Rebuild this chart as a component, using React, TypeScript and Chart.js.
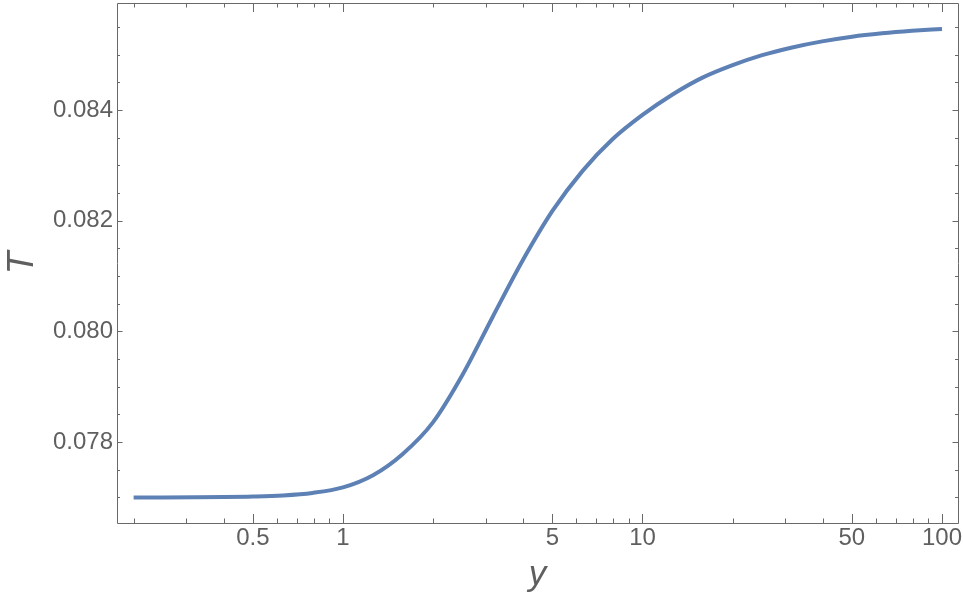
import React, { useEffect, useRef } from "react";
import { Chart, registerables } from "chart.js";

Chart.register(...registerables);

// ---- data ----
const yValues: number[] = [
  0.2, 0.25, 0.32, 0.4, 0.5, 0.63, 0.79, 1, 1.26, 1.58, 2, 2.51, 3.16, 3.98, 5.01,
  6.31, 7.94, 10, 12.6, 15.8, 20, 25.1, 31.6, 39.8, 50.1, 63.1, 79.4, 100,
];
const tValues: number[] = [
  0.077, 0.077, 0.077002, 0.077006, 0.077015, 0.077035, 0.07708, 0.07718, 0.0774,
  0.07778, 0.07836, 0.07922, 0.08026, 0.08128, 0.08218, 0.0829, 0.08347, 0.08391,
  0.08428, 0.08458, 0.08481, 0.08499, 0.08513, 0.08524, 0.085325, 0.085385, 0.08543,
  0.085465,
];
const xTickValues: number[] = [0.5, 1, 5, 10, 50, 100];
const xTickLabels: string[] = ["0.5", "1", "5", "10", "50", "100"];
const yTickValues: number[] = [0.078, 0.08, 0.082, 0.084];
const yTickLabels: string[] = ["0.078", "0.080", "0.082", "0.084"];
const xTitle = "y";
const yTitle = "T";

const X_MIN = 0.176;
const X_MAX = 113.1;
const Y_MIN = 0.076537;
const Y_MAX = 0.085933;

const FRAME = "rgb(105,105,105)";
const LABEL = "rgb(95,95,95)";
const FONT = "'Liberation Sans', Arial, sans-serif";

const framePlugin = {
  id: "mmaFrame",
  afterDatasetsDraw(chart: any) {
    const { ctx, chartArea, scales } = chart;
    const { left, right, top, bottom } = chartArea;
    const xs = scales.x;
    const ys = scales.y;
    ctx.save();
    ctx.strokeStyle = FRAME;
    ctx.lineWidth = 1;
    ctx.beginPath();
    ctx.rect(Math.round(left) + 0.5, Math.round(top) + 0.5, Math.round(right - left), Math.round(bottom - top));
    ctx.stroke();

    ctx.beginPath();
    for (let n = -1; n <= 2; n++) {
      for (let k = 1; k <= 9; k++) {
        const v = k * Math.pow(10, n);
        if (v < X_MIN || v > X_MAX) continue;
        const isMajor = xTickValues.some((m) => Math.abs(m - v) / m < 1e-9);
        const len = isMajor ? 9 : 4.5;
        const px = Math.round(xs.getPixelForValue(v)) + 0.5;
        ctx.moveTo(px, bottom);
        ctx.lineTo(px, bottom - len);
        ctx.moveTo(px, top);
        ctx.lineTo(px, top + len);
      }
    }
    for (let i = 150; i <= 175; i++) {
      const v = i * 0.0005;
      if (v < Y_MIN || v > Y_MAX) continue;
      const isMajor = i % 4 === 0;
      const len = isMajor ? 5.5 : 3;
      const py = Math.round(ys.getPixelForValue(v)) + 0.5;
      ctx.moveTo(left, py);
      ctx.lineTo(left + len, py);
      ctx.moveTo(right, py);
      ctx.lineTo(right - len, py);
    }
    ctx.stroke();
    ctx.restore();
  },
};

export default function App() {
  const ref = useRef<HTMLCanvasElement | null>(null);
  useEffect(() => {
    if (!ref.current) return;
    const chart = new Chart(ref.current, {
      type: "line",
      data: {
        datasets: [
          {
            data: yValues.map((x, i) => ({ x, y: tValues[i] })),
            borderColor: "rgb(94,129,181)",
            borderWidth: 4,
            pointRadius: 0,
            cubicInterpolationMode: "monotone",
            fill: false,
          },
        ],
      },
      options: {
        responsive: false,
        animation: false,
        layout: { padding: { left: 0, right: 5, top: 3, bottom: 0 } },
        plugins: { legend: { display: false }, tooltip: { enabled: false } },
        scales: {
          x: {
            type: "logarithmic",
            min: X_MIN,
            max: X_MAX,
            grid: { display: false, drawTicks: false },
            border: { display: false },
            afterBuildTicks: (s: any) => {
              s.ticks = xTickValues.map((v) => ({ value: v }));
            },
            afterFit: (s: any) => {
              s.height = 73;
              s.paddingLeft = 0;
              s.paddingRight = 0;
            },
            ticks: {
              autoSkip: false,
              maxRotation: 0,
              padding: 1,
              color: LABEL,
              font: { family: FONT, size: 24 },
              callback: (v: any) => {
                const i = xTickValues.findIndex((m) => Math.abs(m - Number(v)) / m < 1e-9);
                return i >= 0 ? xTickLabels[i] : "";
              },
            },
            title: {
              display: true,
              text: xTitle,
              color: LABEL,
              font: { family: FONT, size: 35, style: "italic" },
              padding: { top: 0, bottom: 0 },
            },
          },
          y: {
            type: "linear",
            min: Y_MIN,
            max: Y_MAX,
            grid: { display: false, drawTicks: false },
            border: { display: false },
            afterBuildTicks: (s: any) => {
              s.ticks = yTickValues.map((v) => ({ value: v }));
            },
            afterFit: (s: any) => {
              s.width = 117;
              s.paddingTop = 0;
              s.paddingBottom = 0;
            },
            ticks: {
              padding: 4,
              color: LABEL,
              font: { family: FONT, size: 24 },
              callback: (v: any) => {
                const i = yTickValues.findIndex((m) => Math.abs(m - Number(v)) < 1e-9);
                return i >= 0 ? yTickLabels[i] : "";
              },
            },
            title: {
              display: true,
              text: yTitle,
              color: LABEL,
              font: { family: FONT, size: 37, style: "italic" },
              padding: { top: 1, bottom: 0 },
            },
          },
        },
      },
      plugins: [framePlugin],
    });
    return () => chart.destroy();
  }, []);
  return (
    <div style={{ position: "fixed", left: 0, top: 0, width: 963, height: 596, background: "#fff" }}>
      <canvas ref={ref} width={963} height={596} />
    </div>
  );
}
